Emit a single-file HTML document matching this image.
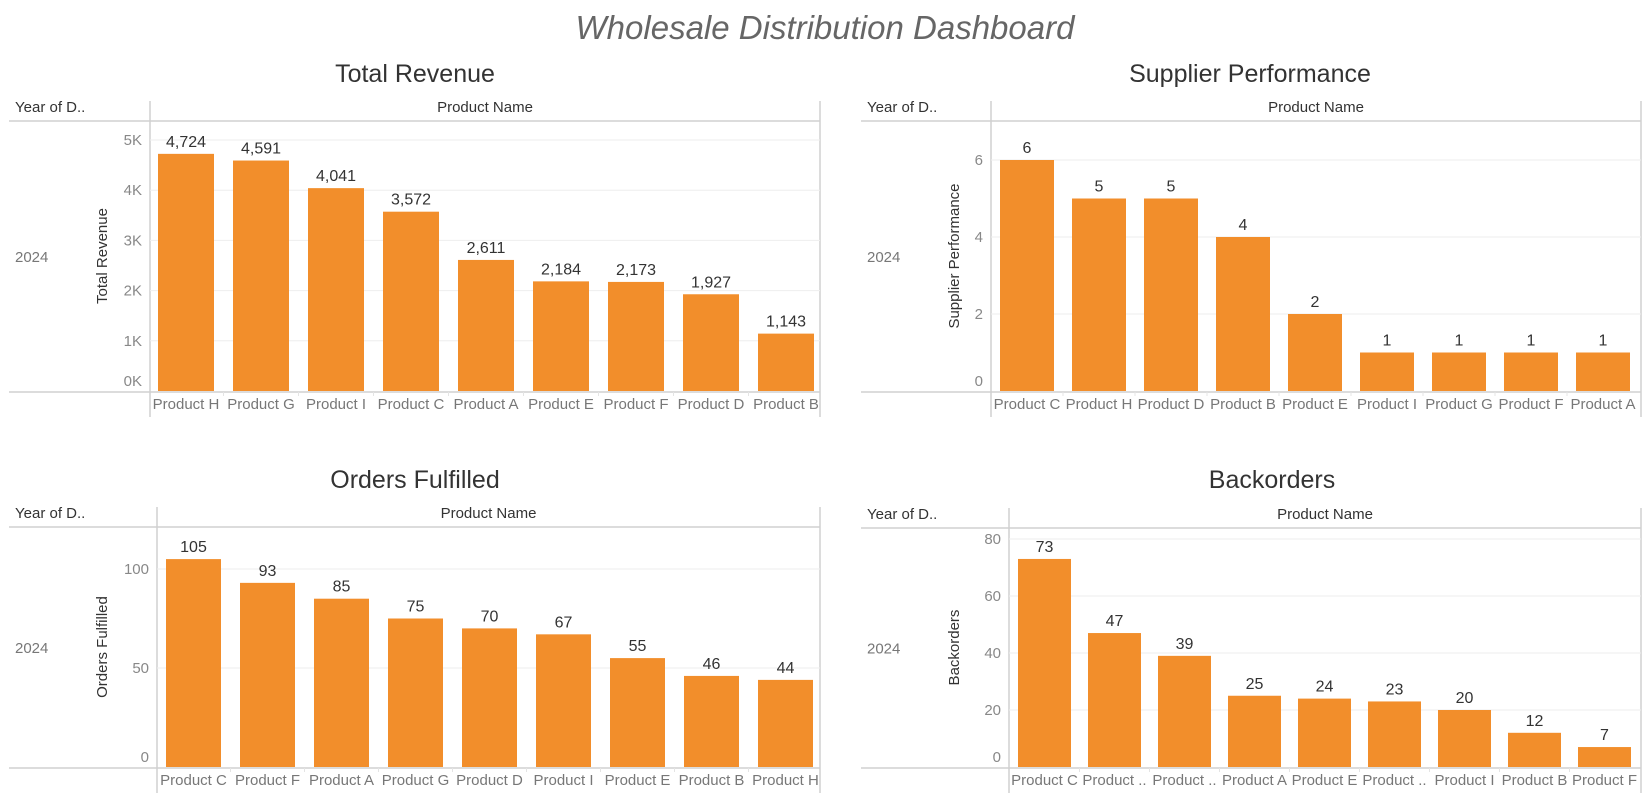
<!DOCTYPE html>
<html><head><meta charset="utf-8">
<style>
html,body{margin:0;padding:0;background:#fff;}
svg{display:block;font-family:"Liberation Sans","DejaVu Sans",sans-serif;}
</style></head>
<body>
<svg id="dash" width="1651" height="805" viewBox="0 0 1651 805">
<text x="825" y="39" text-anchor="middle" font-size="33" font-style="italic" fill="#666">Wholesale Distribution Dashboard</text>
</svg>
<script>
const revCats=["Product H","Product G","Product I","Product C","Product A","Product E","Product F","Product D","Product B"];
const revVals=[4724,4591,4041,3572,2611,2184,2173,1927,1143];
const revTicks=[0,1000,2000,3000,4000,5000];
const revTickLabels=["0K","1K","2K","3K","4K","5K"];
const supCats=["Product C","Product H","Product D","Product B","Product E","Product I","Product G","Product F","Product A"];
const supVals=[6,5,5,4,2,1,1,1,1];
const supTicks=[0,2,4,6];
const supTickLabels=["0","2","4","6"];
const ordCats=["Product C","Product F","Product A","Product G","Product D","Product I","Product E","Product B","Product H"];
const ordVals=[105,93,85,75,70,67,55,46,44];
const ordTicks=[0,50,100];
const ordTickLabels=["0","50","100"];
const backCats=["Product C","Product ..","Product ..","Product A","Product E","Product ..","Product I","Product B","Product F"];
const backVals=[73,47,39,25,24,23,20,12,7];
const backTicks=[0,20,40,60,80];
const backTickLabels=["0","20","40","60","80"];

const NS="http://www.w3.org/2000/svg";
const svg=document.getElementById('dash');
function mk(tag,attrs,parent,text){const e=document.createElementNS(NS,tag);for(const k in attrs)e.setAttribute(k,attrs[k]);if(text!==undefined)e.textContent=text;(parent||svg).appendChild(e);return e;}
function fmt(v){return v.toLocaleString('en-US');}

function chart(o){
  const g=mk('g',{});
  
  
  const yS=v=>o.base-(v/o.vmax)*(o.base-o.topV);
  const xS=i=>o.barX0+i*o.step;
  let t=mk('text',{x:o.titleX,y:o.titleY,'text-anchor':'middle','font-size':25,fill:'#333'},g,o.title);
  
  mk('line',{x1:o.left,x2:o.right,y1:o.hdr,y2:o.hdr,stroke:'#d0d0d0','stroke-width':1.5},g);
  mk('line',{x1:o.left,x2:o.right,y1:o.base+1,y2:o.base+1,stroke:'#d0d0d0','stroke-width':1.5},g);
  mk('line',{x1:o.axX,x2:o.axX,y1:o.hdr-20,y2:o.base+26,stroke:'#d0d0d0','stroke-width':1.5},g);
  mk('line',{x1:o.right,x2:o.right,y1:o.hdr-20,y2:o.base+26,stroke:'#d0d0d0','stroke-width':1.5},g);
  t=mk('text',{x:o.left+6,y:o.hdr-9,'font-size':15,fill:'#333'},g,'Year of D..');
  
  t=mk('text',{x:(o.axX+o.right)/2,y:o.hdr-9,'text-anchor':'middle','font-size':15,fill:'#333'},g,'Product Name');
  
  t=mk('text',{x:o.left+6,y:(o.hdr+o.base)/2+6,'font-size':15,fill:'#777'},g,'2024');
  
  const cy=(o.hdr+o.base)/2;
  t=mk('text',{x:o.axTitleX,y:cy,'text-anchor':'middle','font-size':15,fill:'#333',transform:`rotate(-90 ${o.axTitleX} ${cy})`},g,o.axTitle);
  
  o.ticks.forEach((v,i)=>{
    const y=yS(v);
    if(v>0){const gl=mk('line',{x1:o.axX,x2:o.right,y1:y,y2:y,stroke:'#eee','stroke-width':1},g);
      }
    const ty=v===0?o.base-5:y+5;
    const tl=mk('text',{x:o.axX-8,y:ty,'text-anchor':'end','font-size':15,fill:'#888'},g,o.tickLabels[i]);
    
  });
  o.vals.forEach((v,i)=>{
    const x=xS(i),y=yS(v);
    const r=mk('rect',{x:x,y:y,width:o.bw,height:o.base-y,fill:'#f28e2b'},g);
    
    
    const vl=mk('text',{x:x+o.bw/2,y:y-7,'text-anchor':'middle','font-size':16,fill:'#333'},g,fmt(v));
    
    const cl=mk('text',{x:x+o.bw/2,y:o.base+18,'text-anchor':'middle','font-size':15,fill:'#777'},g,o.cats[i]);
    
    if(i>0){mk('line',{x1:x-(o.step-o.bw)/2,x2:x-(o.step-o.bw)/2,y1:o.base+1,y2:o.base+5,stroke:'#e4e4e4'},g);}
  });
}
chart({name:'total-revenue',title:'Total Revenue',titleX:415,titleY:82,left:9,right:820,hdr:121,base:391,axX:150,
  vmax:5000,topV:140,barX0:158,step:75,bw:56,axTitleX:107,axTitle:'Total Revenue',
  cats:revCats,vals:revVals,ticks:revTicks,tickLabels:revTickLabels});
chart({name:'supplier-performance',title:'Supplier Performance',titleX:1250,titleY:82,left:861,right:1641,hdr:121,base:391,axX:991,
  vmax:6,topV:160,barX0:1000,step:72,bw:54,axTitleX:959,axTitle:'Supplier Performance',
  cats:supCats,vals:supVals,ticks:supTicks,tickLabels:supTickLabels});
chart({name:'orders-fulfilled',title:'Orders Fulfilled',titleX:415,titleY:488,left:9,right:820,hdr:527,base:767,axX:157,
  vmax:100,topV:569,barX0:166,step:74,bw:55,axTitleX:107,axTitle:'Orders Fulfilled',
  cats:ordCats,vals:ordVals,ticks:ordTicks,tickLabels:ordTickLabels});
chart({name:'backorders',title:'Backorders',titleX:1272,titleY:488,left:861,right:1641,hdr:528,base:767,axX:1009,
  vmax:80,topV:539,barX0:1018,step:70,bw:53,axTitleX:959,axTitle:'Backorders',
  cats:backCats,vals:backVals,ticks:backTicks,tickLabels:backTickLabels});
</script>
</body></html>
